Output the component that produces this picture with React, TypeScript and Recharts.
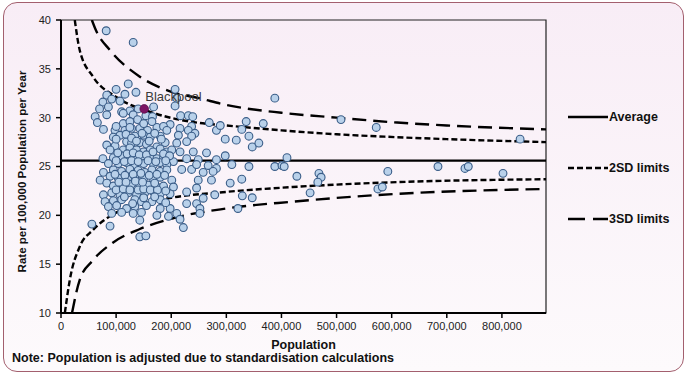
import {
  ComposedChart,
  Line,
  Scatter,
  XAxis,
  YAxis,
  ReferenceArea,
} from "recharts";

// population in thousands, rate per 100,000 per year
const averageRate = 25.6;

const upper3SD: [number, number][] = [
  [56, 40], [63, 39], [89, 36.9], [143, 34.2], [203, 32.6], [250, 32.0],
  [300, 31.3], [400, 30.5], [500, 30.0], [610, 29.5], [700, 29.2], [880, 28.8],
];
const upper2SD: [number, number][] = [
  [25, 40], [34, 36.9], [58, 34.2], [101, 32.1], [167, 30.5], [252, 29.45],
  [300, 29.2], [400, 28.7], [500, 28.3], [610, 28.0], [700, 27.8], [880, 27.5],
];
const lower2SD: [number, number][] = [
  [7, 10], [16, 13.4], [34, 16.8], [58, 18.5], [101, 20.3], [150, 21.2],
  [200, 21.8], [300, 22.4], [420, 22.9], [610, 23.4], [880, 23.7],
];
const lower3SD: [number, number][] = [
  [20, 10], [34, 13.4], [58, 15.4], [94, 17.2], [143, 18.6], [203, 19.7],
  [300, 20.7], [420, 21.4], [610, 22.2], [880, 22.7],
];

const areas: [number, number][] = [
  [82, 38.9], [131, 37.7],
  [122, 33.45], [100, 32.9], [207, 32.9], [83, 32.3], [116, 32.4], [136, 32.6],
  [76, 31.6], [92, 31.9], [107, 31.7], [210, 32.0], [70, 30.9], [86, 31.1],
  [110, 30.6], [125, 30.7], [140, 30.9], [168, 31.1], [207, 31.2], [62, 30.1],
  [83, 30.3], [113, 30.45], [131, 30.3], [154, 30.2], [166, 30.1], [217, 30.2],
  [231, 30.2], [239, 30.1], [66, 29.5], [113, 29.4], [125, 29.6], [139, 29.8],
  [198, 29.3], [216, 28.9], [237, 29.1], [269, 29.5], [77, 28.8], [98, 28.7],
  [116, 28.7], [128, 28.9], [143, 28.9], [157, 28.7], [174, 29.0], [186, 29.1],
  [192, 28.7], [231, 28.7], [243, 28.4], [282, 28.7], [95, 28.0], [107, 28.2],
  [134, 28.1], [150, 28.2], [162, 28.0], [180, 28.1], [213, 28.2], [237, 28.1],
  [228, 27.55], [83, 27.2], [98, 27.1], [119, 27.55], [128, 27.4], [143, 27.45],
  [155, 27.3], [174, 27.0], [189, 27.45], [210, 27.4], [216, 26.5], [240, 26.5],
  [264, 26.4], [89, 26.7], [113, 26.7], [125, 26.9], [137, 26.7], [150, 26.5],
  [162, 26.7], [180, 26.8], [192, 26.5], [201, 26.7], [76, 25.8], [95, 25.9],
  [110, 26.1], [122, 26.0], [134, 25.9], [150, 25.8], [162, 26.0], [174, 25.8],
  [186, 25.9], [204, 25.5], [228, 25.8], [249, 25.7], [282, 25.7], [86, 25.3],
  [104, 25.3], [119, 25.4], [134, 25.2], [150, 25.3], [168, 25.2], [180, 25.4],
  [192, 25.2], [219, 24.7], [237, 24.7], [246, 25.2], [267, 25.1], [282, 24.8],
  [77, 24.4], [95, 24.65], [110, 24.5], [125, 24.7], [140, 24.6], [152, 24.4],
  [165, 24.65], [180, 24.5], [192, 24.65], [258, 24.4], [276, 24.5], [71, 23.6],
  [89, 24.0], [104, 23.8], [122, 23.9], [134, 24.0], [150, 23.8], [168, 23.7],
  [180, 23.9], [201, 23.6], [249, 23.6], [273, 23.6], [83, 23.3], [95, 23.0],
  [113, 23.0], [128, 23.2], [143, 23.0], [158, 23.1], [174, 22.9], [186, 23.0],
  [204, 22.9], [228, 22.4], [246, 22.8], [77, 22.1], [92, 22.3], [107, 22.1],
  [122, 22.3], [137, 22.1], [152, 22.3], [168, 22.4], [180, 22.2], [198, 22.2],
  [258, 21.75], [279, 22.1], [80, 21.4], [95, 21.5], [110, 21.6], [134, 21.6],
  [146, 21.4], [165, 21.4], [180, 21.6], [228, 21.2], [246, 21.2], [86, 20.9],
  [101, 21.0], [119, 20.7], [134, 20.9], [155, 21.0], [180, 20.7], [198, 20.7],
  [252, 20.7], [92, 20.2], [110, 20.3], [131, 20.2], [146, 20.3], [174, 20.0],
  [210, 20.2], [252, 20.2], [143, 19.5], [195, 19.9], [216, 19.6], [56, 19.1],
  [89, 18.9], [222, 18.75], [143, 17.8], [154, 17.9],
  // dense core, overlapping markers
  [100, 27.8], [118, 28.3], [128, 27.9], [137, 27.6], [147, 28.4], [160, 27.6],
  [170, 28.4], [182, 27.8], [103, 26.4], [120, 26.3], [131, 26.4], [142, 26.2],
  [155, 26.2], [167, 26.5], [186, 26.3], [197, 26.1], [100, 25.6], [115, 25.5],
  [128, 25.6], [140, 25.5], [158, 25.6], [172, 25.5], [190, 25.6], [98, 24.2],
  [116, 24.1], [131, 24.2], [145, 24.3], [160, 24.1], [174, 24.2], [188, 24.1],
  [100, 22.6], [113, 22.7], [125, 22.6], [140, 22.6], [150, 22.7], [162, 22.6],
  [175, 22.6], [190, 22.5], [105, 23.4], [118, 23.4], [135, 23.5], [148, 23.4],
  [170, 23.3], [115, 21.9], [130, 21.2], [150, 21.8], [170, 21.9], [190, 21.3],
  [125, 29.0], [150, 29.4], [165, 29.6], [100, 29.1],
  // larger areas
  [388, 32.0], [508, 29.8], [572, 29.0], [336, 29.6], [328, 28.8], [367, 29.4],
  [289, 29.2], [298, 27.8], [318, 27.7], [341, 28.1], [347, 27.0], [359, 27.4],
  [298, 26.1], [310, 25.2], [341, 25.0], [388, 25.0], [401, 25.1], [405, 25.0],
  [410, 25.9], [428, 24.0], [468, 24.3], [472, 23.9], [466, 23.4], [452, 22.3],
  [593, 24.5], [575, 22.7], [583, 22.9], [307, 23.3], [328, 23.7], [329, 22.0],
  [347, 21.8], [321, 20.7], [684, 25.0], [733, 24.8], [739, 25.0], [802, 24.3],
  [833, 27.8],
];

const highlight = { name: "Blackpool", pop: 151, rate: 30.9 };

const xTicks = [0, 100000, 200000, 300000, 400000, 500000, 600000, 700000, 800000];
const yTicks = [10, 15, 20, 25, 30, 35, 40];

const toRows = (pts: [number, number][]) =>
  pts.map(([p, r]) => ({ pop: p * 1000, rate: r }));

const FONT = '"Liberation Sans", Arial, sans-serif';
const DASH_2SD = "6 3";
const DASH_3SD = "14 7";

function Dot(props: any) {
  return (
    <circle cx={props.cx} cy={props.cy} r={3.9} fill="#b9d1ea" stroke="#3a5d88" strokeWidth={1.1} />
  );
}

function HighlightDot(props: any) {
  return (
    <g>
      <circle cx={props.cx} cy={props.cy} r={4.3} fill="#7d1463" stroke="#5a0c46" strokeWidth={0.8} />
      <text x={props.cx + 1} y={props.cy - 8} fontSize={13} fill="#3a3a3a" fontFamily={FONT}>
        {props.payload.name}
      </text>
    </g>
  );
}

function LegendRow({ label, dash, top }: { label: string; dash?: string; top: number }) {
  return (
    <div style={{ position: "absolute", left: 568, top, display: "flex", alignItems: "center" }}>
      <svg width={40} height={6}>
        <line x1={0} y1={3} x2={40} y2={3} stroke="#000" strokeWidth={2.5} strokeDasharray={dash} />
      </svg>
      <span style={{ fontWeight: "bold", fontSize: 12.5, marginLeft: 1, color: "#111" }}>{label}</span>
    </div>
  );
}

export default function App() {
  return (
    <div style={{ position: "absolute", left: 0, top: 0, width: 687, height: 377, fontFamily: FONT, background: "#fff" }}>
      <div
        style={{
          position: "absolute",
          left: 3,
          top: 2,
          width: 681,
          height: 370,
          boxSizing: "border-box",
          border: "1.5px solid #a35f6e",
          borderRadius: 14,
          background: "linear-gradient(to bottom, #f8edf6 0%, #fdfafc 100%)",
        }}
      />
      <div style={{ position: "absolute", left: 0, top: 0 }}>
        <ComposedChart width={687} height={377} margin={{ top: 20, right: 141, bottom: 24, left: 0 }}>
          <XAxis
            dataKey="pop"
            type="number"
            domain={[0, 880000]}
            ticks={xTicks}
            allowDataOverflow
            tickFormatter={(v) => v.toLocaleString("en-US")}
            tick={{ fontSize: 11, fill: "#222", fontFamily: FONT }}
            tickSize={5}
            tickMargin={4}
            axisLine={{ stroke: "#000", strokeWidth: 2 }}
            tickLine={{ stroke: "#000", strokeWidth: 1.5 }}
            height={40}
            label={{ value: "Population", position: "insideBottom", offset: 4, fontSize: 12.5, fontWeight: "bold", fill: "#111" }}
          />
          <YAxis
            dataKey="rate"
            type="number"
            domain={[10, 40]}
            ticks={yTicks}
            allowDataOverflow
            tick={{ fontSize: 11, fill: "#222", fontFamily: FONT }}
            tickSize={5}
            tickMargin={5}
            axisLine={{ stroke: "#000", strokeWidth: 2 }}
            tickLine={{ stroke: "#000", strokeWidth: 1.5 }}
            width={61}
            label={{
              value: "Rate per 100,000 Population per Year",
              angle: -90,
              position: "center",
              dx: -9,
              dy: 5,
              fontSize: 11.5,
              fontWeight: "bold",
              fill: "#111",
            }}
          />
          <ReferenceArea x1={0} x2={880000} y1={10} y2={40} fill="none" stroke="#222" strokeWidth={1.2} />
          <Line
            data={toRows([[0, averageRate], [880, averageRate]])}
            dataKey="rate"
            stroke="#000"
            strokeWidth={2.2}
            dot={false}
            isAnimationActive={false}
          />
          <Line data={toRows(upper2SD)} dataKey="rate" type="monotone" stroke="#000" strokeWidth={2.4} strokeDasharray={DASH_2SD} dot={false} isAnimationActive={false} />
          <Line data={toRows(lower2SD)} dataKey="rate" type="monotone" stroke="#000" strokeWidth={2.4} strokeDasharray={DASH_2SD} dot={false} isAnimationActive={false} />
          <Line data={toRows(upper3SD)} dataKey="rate" type="monotone" stroke="#000" strokeWidth={2.4} strokeDasharray={DASH_3SD} dot={false} isAnimationActive={false} />
          <Line data={toRows(lower3SD)} dataKey="rate" type="monotone" stroke="#000" strokeWidth={2.4} strokeDasharray={DASH_3SD} dot={false} isAnimationActive={false} />
          <Scatter data={toRows(areas)} shape={Dot} isAnimationActive={false} />
          <Scatter
            data={[{ pop: highlight.pop * 1000, rate: highlight.rate, name: highlight.name }]}
            shape={HighlightDot}
            isAnimationActive={false}
          />
        </ComposedChart>
      </div>
      <LegendRow label="Average" top={110} />
      <LegendRow label="2SD limits" dash={DASH_2SD} top={161} />
      <LegendRow label="3SD limits" dash="17 8" top={212} />
      <div style={{ position: "absolute", left: 12, top: 351, fontSize: 12.5, fontWeight: "bold", color: "#111" }}>
        Note: Population is adjusted due to standardisation calculations
      </div>
    </div>
  );
}
